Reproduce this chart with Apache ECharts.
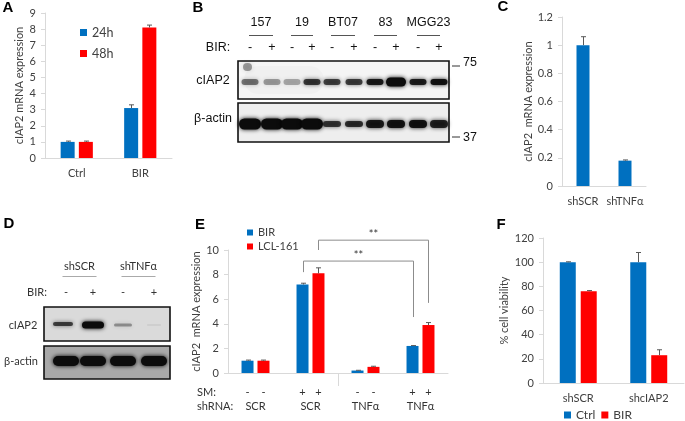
<!DOCTYPE html>
<html><head><meta charset="utf-8">
<script src="https://cdn.jsdelivr.net/npm/echarts@6/dist/echarts.min.js"></script>
<style>html,body{margin:0;padding:0;background:#fff}#c{width:685px;height:421px}</style>
</head><body><div id="c"></div>
<script>
// ---------- Panel A ----------
const catsA = ['Ctrl', 'BIR'];
const a24 = [1.0, 3.1];
const a24Err = [0.05, 0.2];
const a48 = [1.0, 8.1];
const a48Err = [0.05, 0.15];
// ---------- Panel C ----------
const catsC = ['shSCR', 'shTNFα'];
const cVals = [1.0, 0.18];
const cErr = [0.06, 0.005];
// ---------- Panel E ----------
const catsE = ['g1', 'g2', 'g3', 'g4'];
const smE = ['-', '+', '-', '+'];
const shRnaE = ['SCR', 'SCR', 'TNFα', 'TNFα'];
const eBIR = [1.0, 7.2, 0.2, 2.2];
const eBIRErr = [0.05, 0.1, 0.02, 0.03];
const eLCL = [1.0, 8.1, 0.5, 3.9];
const eLCLErr = [0.05, 0.45, 0.05, 0.2];
// significance brackets: [fromCat, fromBar, toCat, toBar, startY, topY, endY]
const bracketsE = [
  [1, 0, 3, 0, 8.2, 9.1, 4.55],
  [1, 1, 3, 1, 10.0, 10.8, 5.7]
];
// ---------- Panel F ----------
const catsF = ['shSCR', 'shcIAP2'];
const fCtrl = [100, 100];
const fCtrlErr = [0.3, 8];
const fBIR = [76, 23];
const fBIRErr = [0.5, 4.5];
// ---------- Blots ----------
const groupsB = ['157', '19', 'BT07', '83', 'MGG23'];
const birB = ['-', '+', '-', '+', '-', '+', '-', '+', '-', '+'];
const bCiap2 = [0.5, 0.35, 0.3, 0.75, 0.7, 0.72, 0.9, 1.0, 0.88, 0.95];
const bActin = [1, 1, 1, 1, 0.75, 0.8, 0.9, 0.95, 0.95, 0.85];
const groupsD = ['shSCR', 'shTNFα'];
const birD = ['-', '+', '-', '+'];
const dCiap2 = [0.7, 1.0, 0.35, 0.06];
const dActin = [1, 1, 1, 1];

const BLUE = '#0070C0', RED = '#FF0000';
const FONT = 'Lato';
const TXT = '#404040';
const AX = '#d9d9d9';

const chart = echarts.init(document.getElementById('c'));

function yAx(gi, max, interval, name, gap) {
  return {
    type: 'value', gridIndex: gi, min: 0, max: max, interval: interval,
    name: name, nameLocation: 'middle', nameGap: gap,
    nameTextStyle: {fontFamily: FONT, fontSize: 11, color: TXT},
    axisLine: {show: true, lineStyle: {color: AX}},
    axisTick: {show: true, length: 4, lineStyle: {color: AX}},
    splitLine: {show: false},
    axisLabel: {fontFamily: FONT, fontSize: 11, color: TXT, margin: 9}
  };
}
function xAx(gi, data, showLabel) {
  return {
    type: 'category', gridIndex: gi, data: data,
    axisLine: {show: true, lineStyle: {color: AX}},
    axisTick: {show: false},
    axisLabel: {show: showLabel, interval: 0, fontFamily: FONT, fontSize: 11, color: TXT, margin: 10}
  };
}
function barS(name, gi, vals, color, w, gap) {
  return {type: 'bar', name: name, xAxisIndex: gi, yAxisIndex: gi, data: vals,
    barWidth: w, barGap: gap, itemStyle: {color: color}, silent: true, z: 2};
}
function errS(gi, vals, errs, off) {
  return {
    type: 'custom', xAxisIndex: gi, yAxisIndex: gi, silent: true, z: 5,
    data: vals.map((v, i) => [i, v, v + errs[i]]),
    encode: {x: 0, y: 1},
    renderItem: function (params, api) {
      const b = api.coord([api.value(0), api.value(1)]);
      const t = api.coord([api.value(0), api.value(2)]);
      const x = Math.round(b[0] + off) + 0.5;
      return {type: 'group', children: [
        {type: 'line', shape: {x1: x, y1: b[1], x2: x, y2: t[1]}, style: {stroke: '#595959', lineWidth: 1}},
        {type: 'line', shape: {x1: x - 2.5, y1: t[1], x2: x + 2.5, y2: t[1]}, style: {stroke: '#595959', lineWidth: 1}}
      ]};
    }
  };
}

const offA = (14 + 14 * 0.3) / 2;
const offE = (12 + 12 * 0.33) / 2;
const offF = (16 + 16 * 0.31) / 2;

chart.setOption({
  animation: false,
  grid: [
    {left: 45, top: 13, width: 127, height: 145},
    {left: 562, top: 17, width: 84, height: 169},
    {left: 228, top: 250, width: 220, height: 123},
    {left: 543, top: 238, width: 141, height: 145}
  ],
  xAxis: [xAx(0, catsA, true), xAx(1, catsC, true), xAx(2, catsE, false), xAx(3, catsF, true)],
  yAxis: [
    yAx(0, 9, 1, 'cIAP2 mRNA expression', 20),
    yAx(1, 1.2, 0.2, 'cIAP2  mRNA expression', 28),
    yAx(2, 10, 2, 'cIAP2  mRNA expression', 24),
    yAx(3, 120, 20, '% cell viability', 33)
  ],
  legend: [
    {data: ['24h', '48h'], orient: 'vertical', left: 75, top: 21, icon: 'rect', itemWidth: 7, itemHeight: 7,
      itemGap: 8, selectedMode: false, textStyle: {fontFamily: FONT, fontSize: 12.5, color: TXT}},
    {data: ['BIR', 'LCL-161'], orient: 'vertical', left: 242, top: 222, icon: 'rect', itemWidth: 6, itemHeight: 6,
      itemGap: 3, selectedMode: false, textStyle: {fontFamily: FONT, fontSize: 11, color: TXT}},
    {data: ['F-Ctrl', 'F-BIR'], orient: 'horizontal', left: 562, top: 407, icon: 'rect', itemWidth: 7, itemHeight: 7,
      itemGap: 6, selectedMode: false, formatter: n => n.replace('F-', ''), padding: 2,
      textStyle: {fontFamily: FONT, fontSize: 12, color: TXT}}
  ],
  series: [
    barS('24h', 0, a24, BLUE, 14, '30%'),
    barS('48h', 0, a48, RED, 14, '30%'),
    errS(0, a24, a24Err, -offA),
    errS(0, a48, a48Err, offA),
    barS('C', 1, cVals, BLUE, 13, '30%'),
    errS(1, cVals, cErr, 0),
    barS('BIR', 2, eBIR, BLUE, 12, '33%'),
    barS('LCL-161', 2, eLCL, RED, 12, '33%'),
    errS(2, eBIR, eBIRErr, -offE),
    errS(2, eLCL, eLCLErr, offE),
    barS('F-Ctrl', 3, fCtrl, BLUE, 16, '31%'),
    barS('F-BIR', 3, fBIR, RED, 16, '31%'),
    errS(3, fCtrl, fCtrlErr, -offF),
    errS(3, fBIR, fBIRErr, offF)
  ]
});

// ---------- graphics ----------
const G = [];
function txt(x, y, s, o) {
  o = o || {};
  G.push({type: 'text', x: x, y: y, z: 20, style: {text: s, fill: o.fill || '#222',
    font: (o.weight || 'normal') + ' ' + (o.size || 12) + 'px ' + (o.family || FONT),
    textAlign: o.align || 'center', textVerticalAlign: 'middle'}});
}
function line(x1, y1, x2, y2, c, w) {
  G.push({type: 'line', z: 20, shape: {x1: x1, y1: y1, x2: x2, y2: y2}, style: {stroke: c || '#888', lineWidth: w || 1}});
}
function box(x, y, w, h, fill) {
  G.push({type: 'rect', z: 8, shape: {x: x, y: y, width: w, height: h}, style: {fill: fill, stroke: '#111', lineWidth: 1.6}});
}
function band(cx, cy, w, h, a, blur) {
  G.push({type: 'rect', z: 10, shape: {x: cx - w / 2, y: cy - h / 2, width: w, height: h, r: h / 2},
    style: {fill: 'rgba(12,12,12,' + a + ')', shadowBlur: blur || 4, shadowColor: 'rgba(0,0,0,' + a + ')'}});
}
function smudge(x, y, w, h, a, blur) {
  G.push({type: 'rect', z: 9, shape: {x: x, y: y, width: w, height: h, r: Math.min(w, h) / 2},
    style: {fill: 'rgba(0,0,0,' + a + ')', shadowBlur: blur, shadowColor: 'rgba(0,0,0,' + a + ')'}});
}

// panel letters
const LF = 'Liberation Sans';
[['A', 8, 8], ['B', 198, 8], ['C', 503, 7], ['D', 9, 224], ['E', 200, 225], ['F', 501, 225]].forEach(p =>
  txt(p[1], p[2], p[0], {weight: 'bold', size: 15, family: LF, fill: '#000'}));

// ----- Blot B -----
const lanesB = [250, 272, 292, 312, 332, 354, 375, 396, 418, 439];
groupsB.forEach((g, i) => {
  const x1 = lanesB[2 * i] - 1, x2 = lanesB[2 * i + 1] + 1;
  txt((x1 + x2) / 2, 23, g, {family: LF, size: 12.5, fill: '#111'});
  line(x1, 35.5, x2, 35.5, '#555', 1);
});
txt(218, 48, 'BIR:', {family: LF, size: 12.5, fill: '#111'});
birB.forEach((s, i) => txt(lanesB[i], 48, s, {family: LF, size: 12.5, fill: '#111'}));
box(238, 61, 211, 38, '#f5f5f5');
box(238, 103, 211, 39, '#eeeeee');
smudge(244, 66, 80, 28, 0.02, 12);
smudge(243, 63, 9, 8, 0.35, 5);
bCiap2.forEach((a, i) => band(lanesB[i], 82, i === 7 ? 20 : 17, i === 7 ? 9 : 6, a, 4));
bActin.forEach((a, i) => band(lanesB[i], 124, i < 4 ? 22 : 18, i < 4 ? 11 : (i < 6 ? 6 : 8), a, 4));
txt(213, 81, 'cIAP2', {family: LF, size: 12.5, fill: '#111'});
txt(213, 119, 'β-actin', {family: LF, size: 12.5, fill: '#111'});
line(452, 66, 460, 66, '#333', 1);
line(452, 137, 460, 137, '#333', 1);
txt(463, 63, '75', {family: LF, size: 12.5, fill: '#111', align: 'left'});
txt(463, 138, '37', {family: LF, size: 12.5, fill: '#111', align: 'left'});

// ----- Blot D -----
const lanesD = [66, 93, 123, 154];
groupsD.forEach((g, i) => {
  const cx = (lanesD[2 * i] + lanesD[2 * i + 1]) / 2;
  txt(cx, 266, g, {size: 11, fill: '#333'});
  line(cx - 17, 276.5, cx + 17, 276.5, '#aaa', 1.2);
});
txt(37, 292, 'BIR:', {size: 11, fill: '#333'});
birD.forEach((s, i) => txt(lanesD[i], 292, s, {size: 11, fill: '#333'}));
box(44, 307, 126, 34, '#dadada');
box(44, 346, 126, 33, '#a9a9a9');
dCiap2.forEach((a, i) => band(lanesD[i] - (i === 0 ? 3 : 0), i === 0 ? 324 : 325, [20, 22, 18, 14][i], [4, 7, 3, 2][i], a, 4));
dActin.forEach((a, i) => band(lanesD[i], 361, 26, 10, a, 4));
txt(23, 325, 'cIAP2', {size: 11, fill: '#333'});
txt(21, 361, 'β-actin', {size: 11, fill: '#333'});

// ----- Panel E annotations -----
function px(gi, cat, v) { return chart.convertToPixel({xAxisIndex: gi, yAxisIndex: gi}, [cat, v]); }
catsE.forEach((c, i) => {
  const p = px(2, i, 0);
  txt(p[0] - offE, 392, smE[i], {size: 11, fill: '#333'});
  txt(p[0] + offE, 392, smE[i], {size: 11, fill: '#333'});
  txt(p[0], 406, shRnaE[i], {size: 11, fill: '#333'});
});
txt(197, 392, 'SM:', {size: 11, fill: '#333', align: 'left'});
txt(197, 406, 'shRNA:', {size: 11, fill: '#333', align: 'left'});
{
  const p1 = px(2, 1, 0), p2 = px(2, 2, 0);
  const xs = Math.round((p1[0] + p2[0]) / 2) + 0.5;
  line(xs, p1[1], xs, p1[1] + 13, AX, 1);
}
bracketsE.forEach(b => {
  const off = b[1] === 0 ? -offE : offE;
  const s = px(2, b[0], b[4]), t = px(2, b[0], b[5]), e = px(2, b[2], b[6]);
  const xa = Math.round(s[0] + off) + 0.5, xb = Math.round(e[0] + off) + 0.5;
  G.push({type: 'polyline', z: 20, shape: {points: [[xa, s[1]], [xa, t[1]], [xb, t[1]], [xb, e[1]]]},
    style: {stroke: '#8c8c8c', lineWidth: 1, fill: null}});
  txt((xa + xb) / 2, t[1] - 6, '**', {size: 11, fill: '#333'});
});

chart.setOption({graphic: G});
</script></body></html>
